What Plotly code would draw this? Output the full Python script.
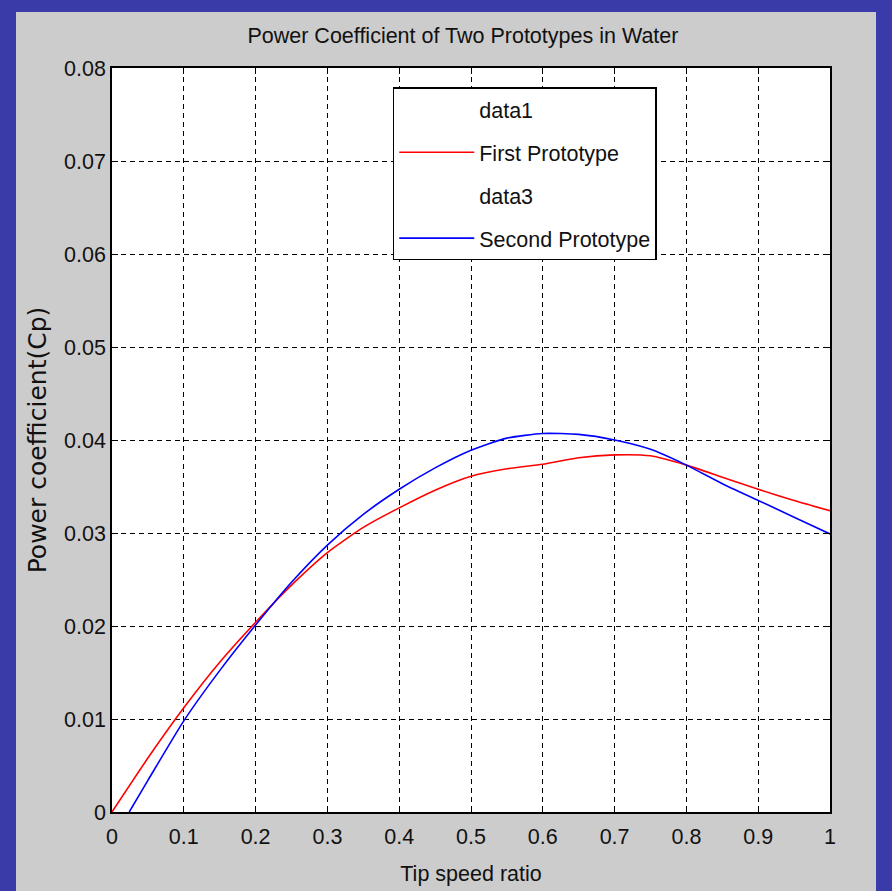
import plotly.graph_objects as go

# Tip speed ratio samples and measured power coefficients
tsr_first = [0.0, 0.05, 0.1, 0.15, 0.2, 0.25, 0.3, 0.35, 0.4, 0.45, 0.5, 0.55,
             0.6, 0.65, 0.7, 0.75, 0.8, 0.85, 0.9, 0.95, 1.0]
cp_first = [0.0, 0.0058, 0.0112, 0.0161, 0.0204, 0.0244, 0.0279, 0.0306, 0.0327,
            0.0346, 0.0361, 0.0369, 0.0374, 0.0381, 0.0384, 0.0383, 0.0373,
            0.0360, 0.0347, 0.0335, 0.0324]

tsr_second = [0.024, 0.05, 0.1, 0.15, 0.2, 0.25, 0.3, 0.35, 0.4, 0.45, 0.5, 0.55,
              0.6, 0.65, 0.7, 0.75, 0.8, 0.85, 0.9, 0.95, 1.0]
cp_second = [0.0, 0.0034, 0.0098, 0.0152, 0.0201, 0.0247, 0.0287, 0.0320, 0.0347,
             0.0370, 0.0389, 0.0402, 0.0407, 0.0406, 0.0400, 0.0390, 0.0373,
             0.0353, 0.0335, 0.0317, 0.0299]

x_ticks = [0, 0.1, 0.2, 0.3, 0.4, 0.5, 0.6, 0.7, 0.8, 0.9, 1]
y_ticks = [0, 0.01, 0.02, 0.03, 0.04, 0.05, 0.06, 0.07, 0.08]

SANS = "Liberation Sans, Arial, sans-serif"
TEXT = "#111111"

fig = go.Figure()
# placeholder entries listed in the legend with no line sample
fig.add_trace(go.Scatter(x=[None], y=[None], mode="lines", name="data1",
                         line=dict(color="rgba(0,0,0,0)"), legendgroup="a"))
fig.add_trace(go.Scatter(x=tsr_first, y=cp_first, mode="lines", name="First Prototype",
                         line=dict(color="#ff0000", width=1.6, shape="spline", smoothing=0.6),
                         legendgroup="b"))
fig.add_trace(go.Scatter(x=[None], y=[None], mode="lines", name="data3",
                         line=dict(color="rgba(0,0,0,0)"), legendgroup="c"))
fig.add_trace(go.Scatter(x=tsr_second, y=cp_second, mode="lines", name="Second Prototype",
                         line=dict(color="#0000ff", width=1.6, shape="spline", smoothing=0.6),
                         legendgroup="d"))

axis_common = dict(
    showline=True, linecolor="black", linewidth=1.5, mirror="ticks",
    ticks="inside", ticklen=6, tickcolor="black", tickwidth=1,
    showgrid=True, gridcolor="black", gridwidth=1, griddash="5px,4px",
    zeroline=False, automargin=False,
    tickfont=dict(family=SANS, size=21.5, color=TEXT),
)

fig.update_xaxes(range=[0, 1], tickvals=x_ticks,
                 ticktext=[f"{v:g}" for v in x_ticks],
                 ticklabelstandoff=4,
                 title=dict(text="Tip speed ratio", standoff=18,
                            font=dict(family=SANS, size=21.5, color=TEXT)),
                 **axis_common)
fig.update_yaxes(range=[0, 0.08], tickvals=y_ticks,
                 ticktext=[f"{v:g}" for v in y_ticks],
                 title=dict(text="Power coefficient(Cp)", standoff=10,
                            font=dict(family="DejaVu Sans, sans-serif", size=25, color=TEXT)),
                 **axis_common)

# figure panel and plotting surface
fig.add_shape(type="rect", xref="paper", yref="paper", layer="below",
              x0=-0.1337, x1=1.0641, y0=-0.12, y1=1.0753,
              fillcolor="#cccccc", line=dict(width=0))
fig.add_shape(type="rect", xref="paper", yref="paper", layer="below",
              x0=0, x1=1, y0=0, y1=1, fillcolor="white", line=dict(width=0))

fig.update_layout(
    width=892, height=891,
    margin=dict(l=112, r=62, t=68, b=79),
    paper_bgcolor="#3a3aa8",
    plot_bgcolor="white",
    title=dict(text="Power Coefficient of Two Prototypes in Water",
               x=0.519, xanchor="center", y=0.96, yanchor="middle",
               font=dict(family=SANS, size=21.5, color=TEXT)),
    legend=dict(x=0.391, y=0.974, xanchor="left", yanchor="top",
                bgcolor="white", bordercolor="black", borderwidth=1.5,
                font=dict(family=SANS, size=21.5, color=TEXT),
                traceorder="grouped", tracegroupgap=12, itemwidth=75),
    showlegend=True,
)

fig.write_html("out.html")
